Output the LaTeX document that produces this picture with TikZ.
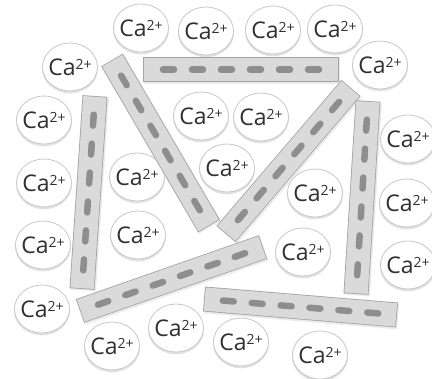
\documentclass[tikz,border=0pt]{standalone}
\usepackage{fontspec}
\setmainfont{Open Sans}
\usetikzlibrary{calc,shapes.geometric}
\definecolor{rodfill}{HTML}{DADADA}
\definecolor{rodedge}{HTML}{A3A3A3}
\definecolor{rodmark}{HTML}{8E8E8E}
\definecolor{ionedge}{HTML}{C8C8C8}
\definecolor{ionshade}{HTML}{DADADA}
\definecolor{iontext}{HTML}{303030}
\newcommand{\caion}{Ca{\fontsize{14}{14}\selectfont\raisebox{5.5pt}{2+}}}
\begin{document}
\begin{tikzpicture}[x=1pt,y=-1pt,
  ionshadow/.style={ellipse, fill=ionshade, minimum width=56pt, minimum height=49pt, inner sep=0pt, opacity=0.8},
  ion/.style={ellipse, fill=white, draw=ionedge, line width=0.8pt, minimum width=55pt, minimum height=48pt, inner sep=0pt},
  iontxt/.style={text=iontext, font=\fontsize{23}{24}\selectfont, inner sep=0pt},
  rodshadow/.style={line width=26pt, draw=black!12, opacity=0.6},
  rodborder/.style={line width=25pt, draw=rodedge},
  rodbody/.style={line width=23.4pt, draw=rodfill, shorten <=0.8pt, shorten >=0.8pt},
  rodmarks/.style={line width=6.5pt, draw=rodmark, line cap=round, dash pattern=on 11pt off 18pt}]
\fill[white] (0,0) rectangle (432,379);
\useasboundingbox (0,0) rectangle (432,379);
% calcium ions
\foreach \n/\x/\y in {1/141/28, 2/206/31, 3/273/30, 4/335/29, 5/70/67, 6/380/65,
  7/44/120, 8/201/116, 9/261/117, 10/408/139, 11/227/168, 12/137/177,
  13/44/183, 14/315/193, 15/407/203, 16/138/235, 17/43/245, 18/303/252,
  19/408/265, 20/42/309, 21/176/328, 22/112/346, 23/241/342, 24/320/355} {
  \node[ionshadow] at (\x,\y+1.8) {};
  \node[ion] (ion\n) at (\x,\y) {};
  \node[iontxt] at (ion\n) {\caion};
}
% rods
\foreach \n/\a/\b/\c/\d in {A/143/69.5/339/69.5, B/112/60/209/226, C/95/96/82/289,
  D/351/88/226/234, E/368/101/356/294, F/80/311/263/247, G/204/299/397/315} {
  \coordinate (rod\n s) at (\a,\b);
  \coordinate (rod\n e) at (\c,\d);
  \coordinate (rod\n m) at ($(rod\n s)!0.5!(rod\n e)$);
  \draw[rodshadow] ($(rod\n s)+(1,1.5)$) -- ($(rod\n e)+(1,1.5)$);
  \draw[rodborder] (rod\n s) -- (rod\n e);
  \draw[rodbody] (rod\n s) -- (rod\n e);
  \draw[rodmarks] ($(rod\n m)!78pt!(rod\n s)$) -- ($(rod\n m)!78pt!(rod\n e)$);
}
\end{tikzpicture}
\end{document}
